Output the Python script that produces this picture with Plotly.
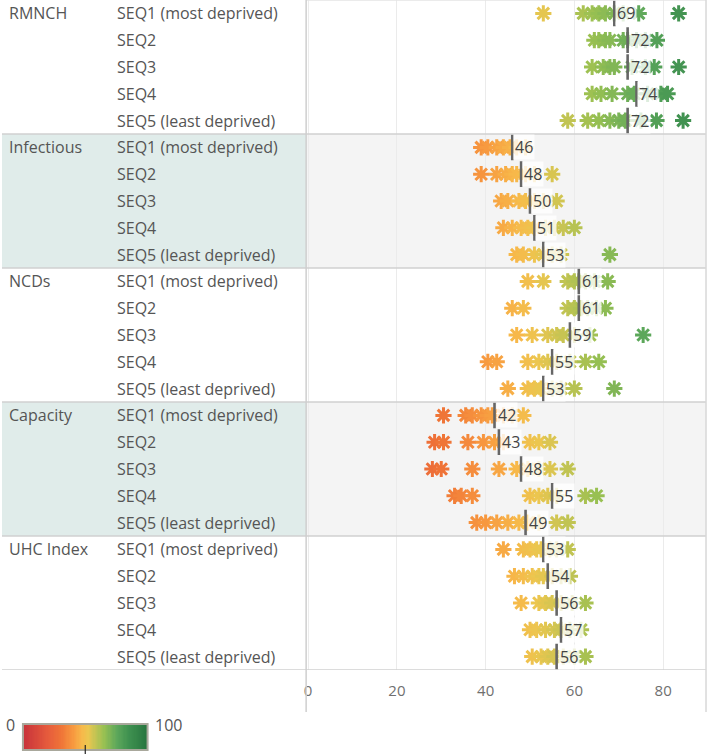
import plotly.graph_objects as go

# ---------------- data ----------------
groups = ["RMNCH", "Infectious", "NCDs", "Capacity", "UHC Index"]
seq_labels = ["SEQ1 (most deprived)", "SEQ2", "SEQ3", "SEQ4", "SEQ5 (least deprived)"]

rmnch_values = [
    [53, 62, 64, 65.5, 67, 69, 71, 74.5, 83.5],
    [64.5, 65.5, 67, 68, 71, 72, 74, 76, 78.6],
    [64, 66.5, 68, 69, 73, 76, 78, 83.5],
    [64, 66, 68.5, 72, 73.5, 76.5, 79.5, 81],
    [58.5, 63, 65.5, 68, 70, 71.5, 75, 78.5, 84.5],
]
infectious_values = [
    [39, 40.5, 42.5, 44, 45.5, 47, 49],
    [39, 42.5, 44.5, 46, 47, 49, 51, 55],
    [43.5, 45, 47.5, 49, 51, 53, 56],
    [44, 46, 48, 49.5, 51, 53.5, 55.5, 57.5, 60],
    [47, 48.5, 51, 53, 55, 57, 68],
]
ncds_values = [
    [49.5, 53, 58.5, 60, 61, 62.5, 64.5, 67.5],
    [46, 48.5, 58.5, 60, 61.5, 63, 65, 67],
    [47, 50.5, 54, 56, 57.5, 60, 63.5, 75.5],
    [40.5, 42.5, 49.5, 52, 54, 56, 59, 62.5, 65.5],
    [45, 49.5, 51, 52.5, 55, 57, 60, 69],
]
capacity_values = [
    [30.5, 35.5, 37, 39, 40.5, 41.5, 44, 46, 48.5],
    [28.5, 30.5, 36, 39.5, 42, 44, 50, 52, 54.5],
    [28, 30, 37, 43, 47, 49.5, 52, 54.5, 58.5],
    [33, 34.5, 37, 50, 52, 54, 56, 62.5, 65],
    [38, 40, 42.5, 45, 47.5, 49.5, 52, 56, 58.5],
]
uhc_values = [
    [44, 48.5, 50, 51.5, 52.5, 54.5, 56, 58.5],
    [46.5, 48.5, 50.5, 52, 53, 55, 57, 59],
    [48, 52, 53.5, 55, 57, 59.5, 62.5],
    [50, 51.5, 53.5, 55.5, 57, 59, 61.5],
    [50.5, 52.5, 54, 55.5, 57.5, 60, 62.5],
]

rmnch_means = [69, 72, 72, 74, 72]
infectious_means = [46, 48, 50, 51, 53]
ncds_means = [61, 61, 59, 55, 53]
capacity_means = [42, 43, 48, 55, 49]
uhc_means = [53, 54, 56, 57, 56]

group_values = [rmnch_values, infectious_values, ncds_values, capacity_values, uhc_values]
group_means = [rmnch_means, infectious_means, ncds_means, capacity_means, uhc_means]
shaded_groups = ["Infectious", "Capacity"]

x_ticks = [0, 20, 40, 60, 80]
color_min, color_max = 0, 100

# ---------------- layout constants ----------------
W, H = 708, 754
ROWS_BOTTOM = 670          # pixel where the row area ends
PANEL_L = 305              # left edge of the chart panel
PANEL_R = 706
FONT = "Open Sans"
TXT = "#555555"
LEG_L, LEG_R, LEG_T, LEG_B = 21, 146, 724, 750

colorscale = [
    [0.0, "#c8323a"], [0.2, "#e65c3c"], [0.3, "#ef7337"], [0.4, "#f7983f"],
    [0.47, "#f7b84a"], [0.52, "#ecc64f"], [0.58, "#c4c453"], [0.65, "#98c052"],
    [0.75, "#5ea85b"], [0.85, "#3f9150"], [1.0, "#27753f"],
]

n_rows = len(groups) * len(seq_labels)

def px(pix):  # pixel from left -> paper x
    return pix / W

def py(pix):  # pixel from top -> paper y
    return (H - pix) / H

fig = go.Figure()

shapes = []
for gi, g in enumerate(groups):
    y0 = gi * 5 - 0.5
    y1 = gi * 5 + 4.5
    if g in shaded_groups:
        shapes.append(dict(type="rect", xref="paper", yref="y", x0=0, x1=px(PANEL_L),
                           y0=y0, y1=y1, fillcolor="#e0ecea", line_width=0, layer="below"))
        shapes.append(dict(type="rect", xref="paper", yref="y", x0=px(PANEL_L), x1=px(PANEL_R),
                           y0=y0, y1=y1, fillcolor="#f4f4f4", line_width=0, layer="below"))
for gi in range(len(groups) + 1):
    yb = gi * 5 - 0.5
    shapes.append(dict(type="line", xref="paper", yref="y", x0=0 if gi > 0 else px(PANEL_L),
                       x1=px(PANEL_R), y0=yb, y1=yb,
                       line=dict(color="#d0d0d0" if gi > 0 else "#e4e4e4", width=1.5), layer="above"))
shapes.append(dict(type="line", xref="paper", yref="paper", x0=px(PANEL_L), x1=px(PANEL_L),
                   y0=py(712), y1=1, line=dict(color="#cfcfcf", width=1.5), layer="above"))
shapes.append(dict(type="line", xref="paper", yref="paper", x0=px(PANEL_R), x1=px(PANEL_R),
                   y0=py(712), y1=1, line=dict(color="#d8d8d8", width=1.5), layer="above"))
# colour legend frame and centre tick
shapes.append(dict(type="rect", xref="paper", yref="paper", x0=px(LEG_L), x1=px(LEG_R),
                   y0=py(LEG_B), y1=py(LEG_T), line=dict(color="#a9a89c", width=2), layer="above"))
shapes.append(dict(type="line", xref="paper", yref="paper",
                   x0=px((LEG_L + LEG_R) / 2), x1=px((LEG_L + LEG_R) / 2),
                   y0=py(745), y1=0, line=dict(color="#222", width=1.2), layer="above"))

# markers
xs, ys = [], []
for gi, vals in enumerate(group_values):
    for si, row in enumerate(vals):
        r = gi * 5 + si
        for v in row:
            xs.append(v)
            ys.append(r)

fig.add_trace(go.Scatter(
    x=xs, y=ys, mode="markers", hoverinfo="x",
    marker=dict(symbol="asterisk-open", size=13.5, color=xs, colorscale=colorscale,
                cmin=color_min, cmax=color_max, line=dict(width=3), showscale=False),
    showlegend=False,
))

# mean lines
lx, ly = [], []
for gi, means in enumerate(group_means):
    for si, m in enumerate(means):
        r = gi * 5 + si
        lx += [m, m, None]
        ly += [r - 0.48, r + 0.48, None]
fig.add_trace(go.Scatter(x=lx, y=ly, mode="lines", line=dict(color="#666666", width=2.6),
                         hoverinfo="skip", showlegend=False))

# colour legend gradient (heatmap on its own axes)
grad = list(range(color_min, color_max + 1))
fig.add_trace(go.Heatmap(x=grad, y=[0], z=[grad], colorscale=colorscale, zmin=color_min,
                         zmax=color_max, showscale=False, hoverinfo="skip",
                         xaxis="x2", yaxis="y2"))

annotations = []
for gi, means in enumerate(group_means):
    for si, m in enumerate(means):
        r = gi * 5 + si
        annotations.append(dict(x=m, y=r, xref="x", yref="y", text=str(m), showarrow=False,
                                xanchor="left", xshift=1, bgcolor="rgba(255,255,255,0.8)",
                                borderpad=1, font=dict(family=FONT, size=16, color="#444")))
for gi, g in enumerate(groups):
    annotations.append(dict(x=px(5), y=gi * 5, xref="paper", yref="y", text=g, showarrow=False,
                            xanchor="left", font=dict(family=FONT, size=16, color=TXT)))
    for si, s in enumerate(seq_labels):
        annotations.append(dict(x=px(113), y=gi * 5 + si, xref="paper", yref="y", text=s,
                                showarrow=False, xanchor="left",
                                font=dict(family=FONT, size=16, color=TXT)))
annotations.append(dict(x=px(15), y=py(738), xref="paper", yref="paper", text=str(color_min),
                        showarrow=False, xanchor="right",
                        font=dict(family=FONT, size=16, color=TXT)))
annotations.append(dict(x=px(151), y=py(738), xref="paper", yref="paper", text=str(color_max),
                        showarrow=False, xanchor="left",
                        font=dict(family=FONT, size=16, color=TXT)))

x_px_per_unit = 4.45
x_start = -(307 - PANEL_L) / x_px_per_unit
x_end = (PANEL_R - 307) / x_px_per_unit

fig.update_layout(
    width=W, height=H,
    margin=dict(l=0, r=0, t=0, b=0),
    paper_bgcolor="white", plot_bgcolor="rgba(0,0,0,0)",
    xaxis=dict(domain=[px(PANEL_L), px(PANEL_R)], range=[x_start, x_end], tickvals=x_ticks,
               anchor="y", showgrid=True, gridcolor="#ebebeb", gridwidth=1, zeroline=False,
               showline=False, ticks="", tickfont=dict(family=FONT, size=15, color="#6f6f6f"),
               ticklabelstandoff=10, fixedrange=True),
    yaxis=dict(domain=[py(ROWS_BOTTOM), 1], range=[n_rows - 0.5, -0.5], visible=False,
               fixedrange=True),
    xaxis2=dict(domain=[px(LEG_L), px(LEG_R)], range=[color_min - 0.5, color_max + 0.5],
                visible=False, anchor="y2", fixedrange=True),
    yaxis2=dict(domain=[py(LEG_B), py(LEG_T)], range=[-0.5, 0.5], visible=False,
                anchor="x2", fixedrange=True),
    shapes=shapes, annotations=annotations, font=dict(family=FONT),
)

fig.write_html("out.html", config={"displayModeBar": False},
               post_script="document.body.style.margin='0';document.body.style.overflow='hidden';")
